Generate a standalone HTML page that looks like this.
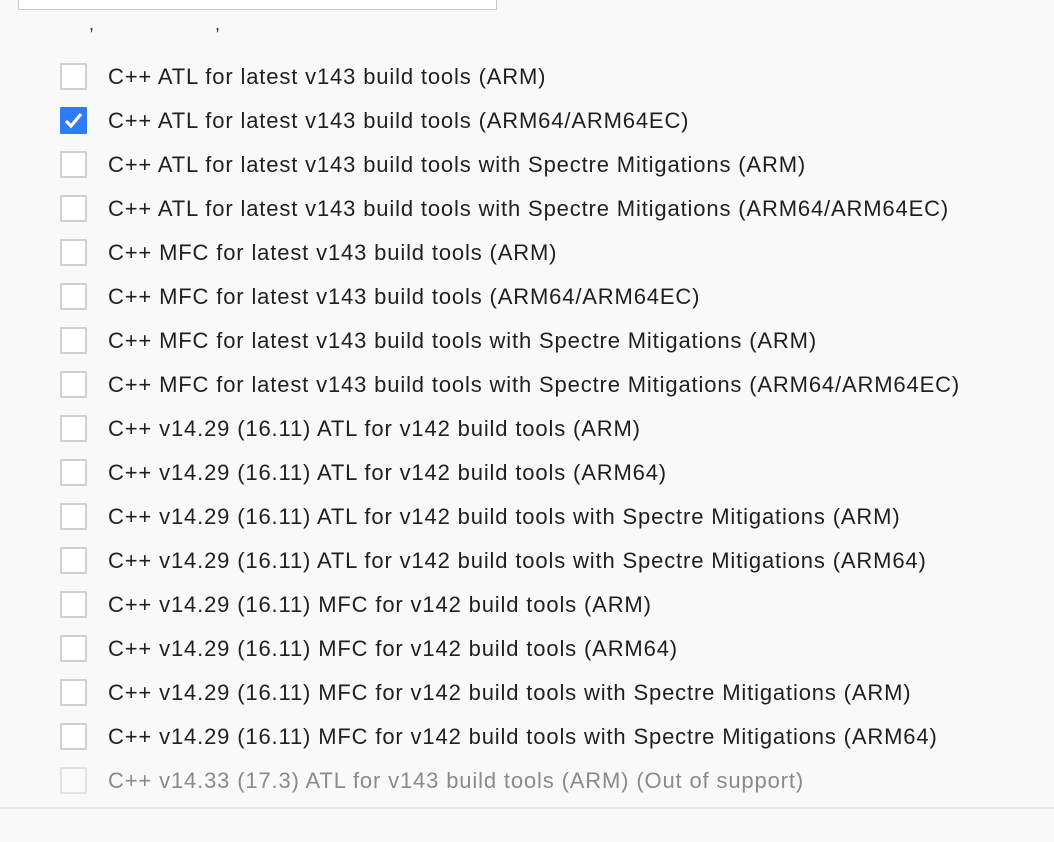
<!DOCTYPE html>
<html><head><meta charset="utf-8"><style>
html,body{margin:0;padding:0;}
body{width:1054px;height:842px;background:#f9f9f9;position:relative;overflow:hidden;font-family:"Liberation Sans",sans-serif;}
.inp{position:absolute;left:18px;top:-4px;width:477px;height:13px;background:#fff;border:1px solid #c8c8c8;border-top:none;}
.cm{position:absolute;top:14px;font-size:18px;color:#333;}
.row{position:absolute;left:0;height:44px;width:1054px;}
.cb{position:absolute;left:60px;top:-13px;width:23px;height:23px;border:2px solid #d0d0d0;background:#fff;border-radius:1px;}
.cb.on{background:#2f7bf5;border-color:#2f7bf5;}
.cb.dis{border-color:#e2e2e2;background:#fafafa;}
.t{position:absolute;left:108px;top:-12px;font-size:22px;color:#1f1f1f;white-space:nowrap;letter-spacing:0.85px;}
.t.dis{color:#8a8a8a;}
.sep{position:absolute;left:0;top:807px;width:1054px;height:2px;background:#e6e6e6;}
</style></head><body>
<div class="inp"></div>
<div class="cm" style="left:89px">,</div>
<div class="cm" style="left:215px">,</div>

<div class="row" style="top:76px"><div class="cb"></div><div class="t">C++ ATL for latest v143 build tools (ARM)</div></div>
<div class="row" style="top:120px"><div class="cb on"><svg width="23" height="23" viewBox="0 0 23 23"><path d="M4 12 L9 17 L19 5" stroke="#fff" stroke-width="3.2" fill="none"/></svg></div><div class="t">C++ ATL for latest v143 build tools (ARM64/ARM64EC)</div></div>
<div class="row" style="top:164px"><div class="cb"></div><div class="t">C++ ATL for latest v143 build tools with Spectre Mitigations (ARM)</div></div>
<div class="row" style="top:208px"><div class="cb"></div><div class="t">C++ ATL for latest v143 build tools with Spectre Mitigations (ARM64/ARM64EC)</div></div>
<div class="row" style="top:252px"><div class="cb"></div><div class="t">C++ MFC for latest v143 build tools (ARM)</div></div>
<div class="row" style="top:296px"><div class="cb"></div><div class="t">C++ MFC for latest v143 build tools (ARM64/ARM64EC)</div></div>
<div class="row" style="top:340px"><div class="cb"></div><div class="t">C++ MFC for latest v143 build tools with Spectre Mitigations (ARM)</div></div>
<div class="row" style="top:384px"><div class="cb"></div><div class="t">C++ MFC for latest v143 build tools with Spectre Mitigations (ARM64/ARM64EC)</div></div>
<div class="row" style="top:428px"><div class="cb"></div><div class="t">C++ v14.29 (16.11) ATL for v142 build tools (ARM)</div></div>
<div class="row" style="top:472px"><div class="cb"></div><div class="t">C++ v14.29 (16.11) ATL for v142 build tools (ARM64)</div></div>
<div class="row" style="top:516px"><div class="cb"></div><div class="t">C++ v14.29 (16.11) ATL for v142 build tools with Spectre Mitigations (ARM)</div></div>
<div class="row" style="top:560px"><div class="cb"></div><div class="t">C++ v14.29 (16.11) ATL for v142 build tools with Spectre Mitigations (ARM64)</div></div>
<div class="row" style="top:604px"><div class="cb"></div><div class="t">C++ v14.29 (16.11) MFC for v142 build tools (ARM)</div></div>
<div class="row" style="top:648px"><div class="cb"></div><div class="t">C++ v14.29 (16.11) MFC for v142 build tools (ARM64)</div></div>
<div class="row" style="top:692px"><div class="cb"></div><div class="t">C++ v14.29 (16.11) MFC for v142 build tools with Spectre Mitigations (ARM)</div></div>
<div class="row" style="top:736px"><div class="cb"></div><div class="t">C++ v14.29 (16.11) MFC for v142 build tools with Spectre Mitigations (ARM64)</div></div>
<div class="row" style="top:780px"><div class="cb dis"></div><div class="t dis">C++ v14.33 (17.3) ATL for v143 build tools (ARM) (Out of support)</div></div>
<div class="sep"></div>
</body></html>
